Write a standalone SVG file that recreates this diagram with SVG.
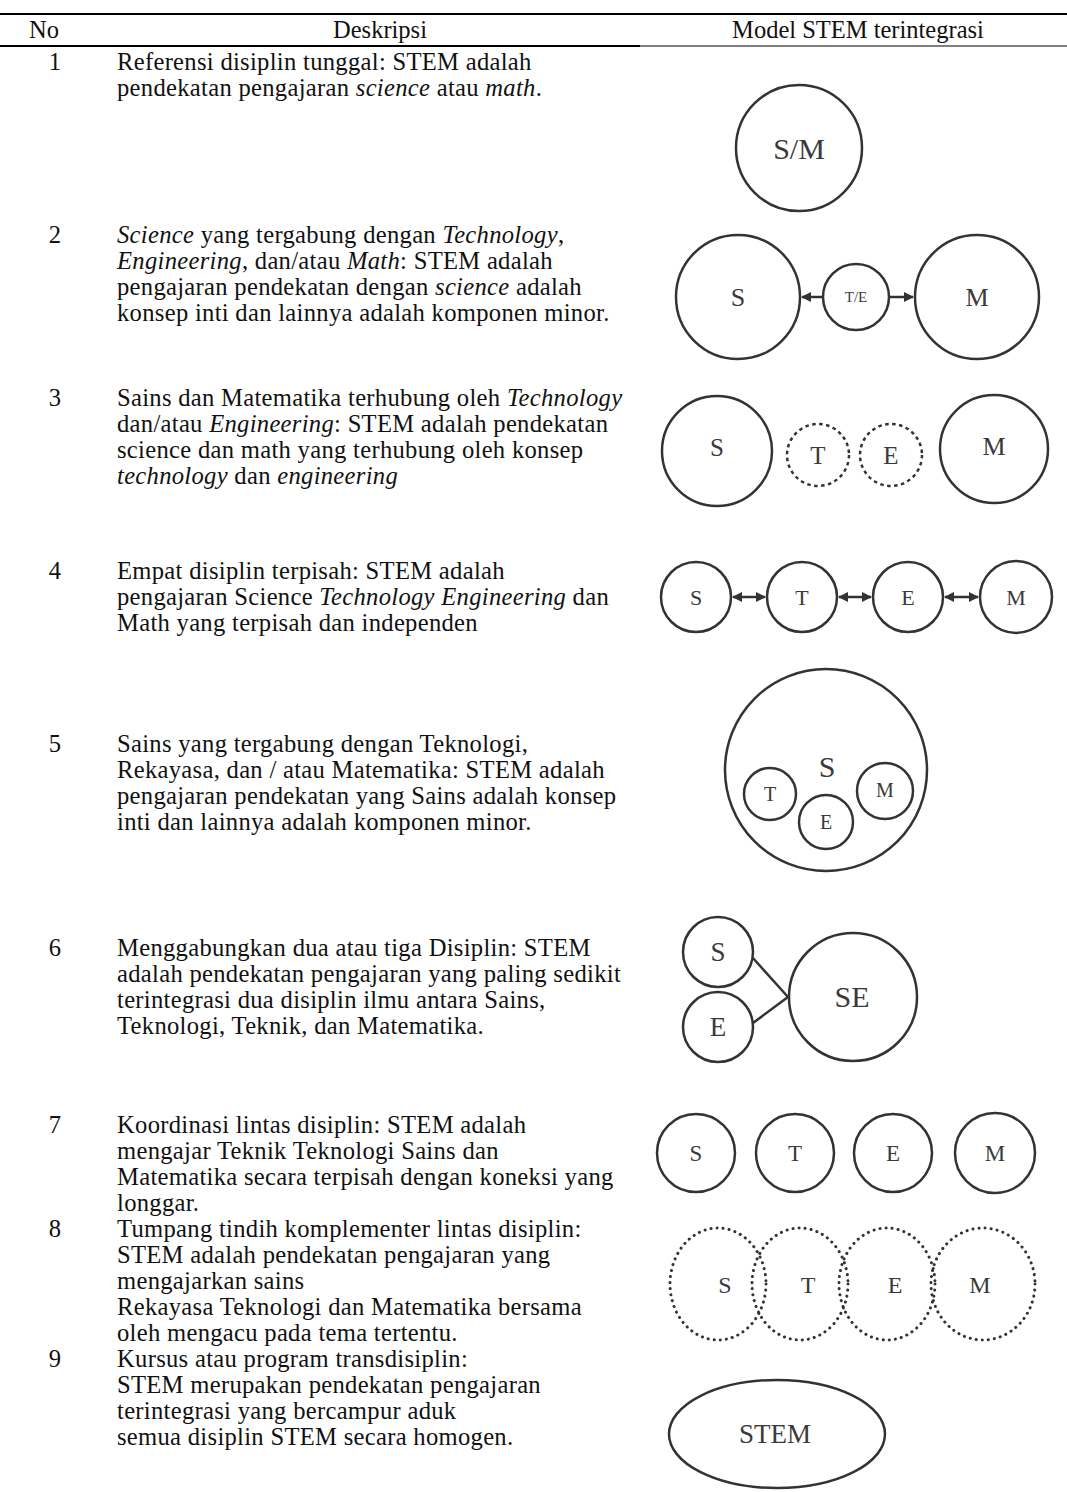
<svg xmlns="http://www.w3.org/2000/svg" width="1067" height="1492" viewBox="0 0 1067 1492">
<style>
.t{font-family:"Liberation Serif","Times New Roman",serif;font-size:24.6px;letter-spacing:0.3px;fill:#111}
.n{font-family:"Liberation Serif","Times New Roman",serif;font-size:24.6px;fill:#111;text-anchor:middle}
.h{font-family:"Liberation Serif","Times New Roman",serif;font-size:24.5px;fill:#111;text-anchor:middle}
.i{font-style:italic}
.c{fill:none;stroke:#333;stroke-width:2.5}
.dd{fill:none;stroke:#333;stroke-width:2.5;stroke-dasharray:3.5 3.5}
.d{fill:none;stroke:#333;stroke-width:3;stroke-dasharray:0.1 6;stroke-linecap:round}
.l{font-family:"Liberation Serif","Times New Roman",serif;fill:#3a3a3a;text-anchor:middle}
.k{stroke:#333;stroke-width:2.5;fill:none}
</style>
<defs>
<marker id="ah" viewBox="0 0 10 10" refX="9" refY="5" markerWidth="4" markerHeight="4" orient="auto-start-reverse"><path d="M0,0 L10,5 L0,10 z" fill="#333"/></marker>
</defs>
<rect width="1067" height="1492" fill="#fff"/>
<g id="table">
<line x1="0" y1="14" x2="1067" y2="14" stroke="#000" stroke-width="2"/>
<line x1="0" y1="46" x2="640" y2="46" stroke="#000" stroke-width="2"/>
<line x1="640" y1="46" x2="1067" y2="46" stroke="#000" stroke-width="1"/>
<text class="h" x="44" y="38">No</text>
<text class="h" x="380" y="38">Deskripsi</text>
<text class="h" x="858" y="38">Model STEM terintegrasi</text>
</g>
<g id="desc">
<text class="n" x="55" y="70">1</text>
<text class="t" x="117" y="70">Referensi disiplin tunggal: STEM adalah</text>
<text class="t" x="117" y="96">pendekatan pengajaran <tspan class="i">science</tspan> atau <tspan class="i">math</tspan>.</text>
<text class="n" x="55" y="243">2</text>
<text class="t" x="117" y="243"><tspan class="i">Science</tspan> yang tergabung dengan <tspan class="i">Technology</tspan>,</text>
<text class="t" x="117" y="269"><tspan class="i">Engineering</tspan>, dan/atau <tspan class="i">Math</tspan>: STEM adalah</text>
<text class="t" x="117" y="295">pengajaran pendekatan dengan <tspan class="i">science</tspan> adalah</text>
<text class="t" x="117" y="321">konsep inti dan lainnya adalah komponen minor.</text>
<text class="n" x="55" y="406">3</text>
<text class="t" x="117" y="406">Sains dan Matematika terhubung oleh <tspan class="i">Technology</tspan></text>
<text class="t" x="117" y="432">dan/atau <tspan class="i">Engineering</tspan>: STEM adalah pendekatan</text>
<text class="t" x="117" y="458">science dan math yang terhubung oleh konsep</text>
<text class="t" x="117" y="484"><tspan class="i">technology</tspan> dan <tspan class="i">engineering</tspan></text>
<text class="n" x="55" y="579">4</text>
<text class="t" x="117" y="579">Empat disiplin terpisah: STEM adalah</text>
<text class="t" x="117" y="605">pengajaran Science <tspan class="i">Technology Engineering</tspan> dan</text>
<text class="t" x="117" y="631">Math yang terpisah dan independen</text>
<text class="n" x="55" y="752">5</text>
<text class="t" x="117" y="752">Sains yang tergabung dengan Teknologi,</text>
<text class="t" x="117" y="778">Rekayasa, dan / atau Matematika: STEM adalah</text>
<text class="t" x="117" y="804">pengajaran pendekatan yang Sains adalah konsep</text>
<text class="t" x="117" y="830">inti dan lainnya adalah komponen minor.</text>
<text class="n" x="55" y="956">6</text>
<text class="t" x="117" y="956">Menggabungkan dua atau tiga Disiplin: STEM</text>
<text class="t" x="117" y="982">adalah pendekatan pengajaran yang paling sedikit</text>
<text class="t" x="117" y="1008">terintegrasi dua disiplin ilmu antara Sains,</text>
<text class="t" x="117" y="1034">Teknologi, Teknik, dan Matematika.</text>
<text class="n" x="55" y="1133">7</text>
<text class="t" x="117" y="1133">Koordinasi lintas disiplin: STEM adalah</text>
<text class="t" x="117" y="1159">mengajar Teknik Teknologi Sains dan</text>
<text class="t" x="117" y="1185">Matematika secara terpisah dengan koneksi yang</text>
<text class="t" x="117" y="1211">longgar.</text>
<text class="n" x="55" y="1237">8</text>
<text class="t" x="117" y="1237">Tumpang tindih komplementer lintas disiplin:</text>
<text class="t" x="117" y="1263">STEM adalah pendekatan pengajaran yang</text>
<text class="t" x="117" y="1289">mengajarkan sains</text>
<text class="t" x="117" y="1315">Rekayasa Teknologi dan Matematika bersama</text>
<text class="t" x="117" y="1341">oleh mengacu pada tema tertentu.</text>
<text class="n" x="55" y="1367">9</text>
<text class="t" x="117" y="1367">Kursus atau program transdisiplin:</text>
<text class="t" x="117" y="1393">STEM merupakan pendekatan pengajaran</text>
<text class="t" x="117" y="1419">terintegrasi yang bercampur aduk</text>
<text class="t" x="117" y="1445">semua disiplin STEM secara homogen.</text>
</g>
<g id="connectors">
<line class="k" x1="823" y1="297" x2="802" y2="297" marker-end="url(#ah)"/>
<line class="k" x1="889" y1="297" x2="913" y2="297" marker-end="url(#ah)"/>
<line class="k" x1="733" y1="597" x2="765" y2="597" marker-start="url(#ah)" marker-end="url(#ah)"/>
<line class="k" x1="839" y1="597" x2="871" y2="597" marker-start="url(#ah)" marker-end="url(#ah)"/>
<line class="k" x1="945" y1="597" x2="978" y2="597" marker-start="url(#ah)" marker-end="url(#ah)"/>
<line class="k" x1="753" y1="958" x2="788" y2="997"/>
<line class="k" x1="753" y1="1023" x2="788" y2="997"/>
</g>
<g id="m1"><circle class="c" cx="799" cy="148" r="63"/><text class="l" x="799" y="159" font-size="30">S/M</text></g>
<g id="m2-s"><circle class="c" cx="738" cy="297" r="62"/><text class="l" x="738" y="306" font-size="26">S</text></g>
<g id="m2-te"><circle class="c" cx="856" cy="297" r="33"/><text class="l" x="856" y="302" font-size="15">T/E</text></g>
<g id="m2-m"><circle class="c" cx="977" cy="297" r="62"/><text class="l" x="977" y="306" font-size="26">M</text></g>
<g id="m3-s"><circle class="c" cx="717" cy="451" r="55"/><text class="l" x="717" y="456" font-size="25">S</text></g>
<g id="m3-t"><circle class="dd" cx="818" cy="455" r="31"/><text class="l" x="818" y="464" font-size="25">T</text></g>
<g id="m3-e"><circle class="dd" cx="891" cy="455" r="31"/><text class="l" x="891" y="464" font-size="25">E</text></g>
<g id="m3-m"><circle class="c" cx="994" cy="449" r="54"/><text class="l" x="994" y="455" font-size="26">M</text></g>
<g id="m4-s"><circle class="c" cx="696" cy="597" r="35"/><text class="l" x="696" y="605" font-size="22">S</text></g>
<g id="m4-t"><circle class="c" cx="802" cy="597" r="35"/><text class="l" x="802" y="605" font-size="22">T</text></g>
<g id="m4-e"><circle class="c" cx="908" cy="597" r="35"/><text class="l" x="908" y="605" font-size="22">E</text></g>
<g id="m4-m"><circle class="c" cx="1016" cy="597" r="36"/><text class="l" x="1016" y="605" font-size="22">M</text></g>
<g id="m5-s"><circle class="c" cx="826" cy="770" r="101"/><text class="l" x="827" y="777" font-size="30">S</text></g>
<g id="m5-t"><circle class="c" cx="770" cy="794" r="26"/><text class="l" x="770" y="801" font-size="20">T</text></g>
<g id="m5-e"><circle class="c" cx="826" cy="822" r="27"/><text class="l" x="826" y="829" font-size="20">E</text></g>
<g id="m5-m"><circle class="c" cx="885" cy="791" r="28"/><text class="l" x="885" y="797" font-size="20">M</text></g>
<g id="m6-s"><circle class="c" cx="718" cy="952" r="35"/><text class="l" x="718" y="961" font-size="27">S</text></g>
<g id="m6-e"><circle class="c" cx="718" cy="1027" r="35"/><text class="l" x="718" y="1036" font-size="27">E</text></g>
<g id="m6-se"><circle class="c" cx="853" cy="997" r="64"/><text class="l" x="852" y="1007" font-size="30">SE</text></g>
<g id="m7-s"><circle class="c" cx="696" cy="1153" r="39"/><text class="l" x="696" y="1161" font-size="23">S</text></g>
<g id="m7-t"><circle class="c" cx="795" cy="1153" r="39"/><text class="l" x="795" y="1161" font-size="23">T</text></g>
<g id="m7-e"><circle class="c" cx="893" cy="1153" r="39"/><text class="l" x="893" y="1161" font-size="23">E</text></g>
<g id="m7-m"><circle class="c" cx="995" cy="1153" r="40"/><text class="l" x="995" y="1161" font-size="23">M</text></g>
<g id="m8-s"><ellipse class="d" cx="718" cy="1284" rx="48" ry="56"/><text class="l" x="725" y="1293" font-size="24">S</text></g>
<g id="m8-t"><ellipse class="d" cx="800" cy="1284" rx="48" ry="56"/><text class="l" x="808" y="1293" font-size="24">T</text></g>
<g id="m8-e"><ellipse class="d" cx="887" cy="1284" rx="48" ry="56"/><text class="l" x="895" y="1293" font-size="24">E</text></g>
<g id="m8-m"><ellipse class="d" cx="983" cy="1284" rx="52" ry="56"/><text class="l" x="980" y="1293" font-size="24">M</text></g>
<g id="m9"><ellipse class="c" cx="777" cy="1434" rx="108" ry="54"/><text class="l" x="775" y="1443" font-size="27">STEM</text></g>
</svg>
